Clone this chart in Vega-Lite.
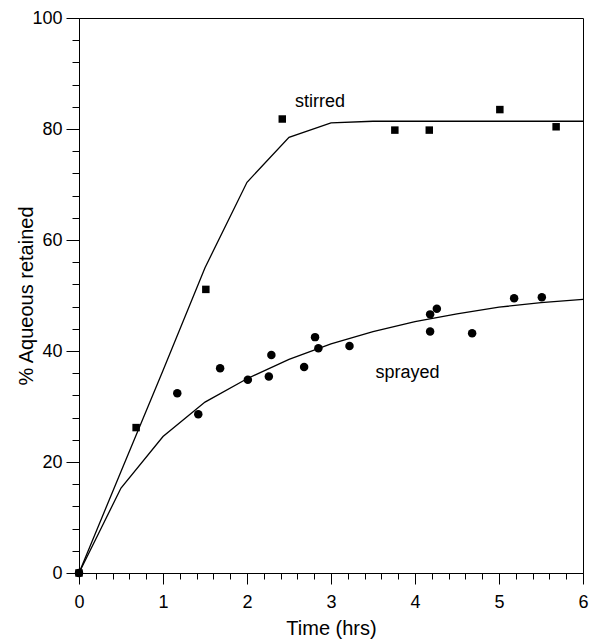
{
  "$schema": "https://vega.github.io/schema/vega-lite/v6.json",
  "width": 504,
  "height": 555,
  "autosize": {"type": "none"},
  "padding": {"left": 79, "top": 18, "right": 6, "bottom": 67},
  "background": "white",
  "config": {
    "font": "Liberation Sans",
    "view": {"stroke": "black", "strokeWidth": 1},
    "axis": {
      "domainColor": "black",
      "domainWidth": 1,
      "tickColor": "black",
      "tickWidth": 1,
      "labelColor": "black",
      "titleColor": "black",
      "labelFontSize": 18,
      "titleFontSize": 20,
      "titleFontWeight": "normal",
      "labelFont": "Liberation Sans",
      "titleFont": "Liberation Sans",
      "grid": false
    }
  },
  "datasets": {
    "fits": [
      {"series": "stirred", "t": 0, "v": 0},
      {"series": "stirred", "t": 0.5, "v": 18.3},
      {"series": "stirred", "t": 1, "v": 36.5},
      {"series": "stirred", "t": 1.5, "v": 55},
      {"series": "stirred", "t": 2, "v": 70.4},
      {"series": "stirred", "t": 2.5, "v": 78.5},
      {"series": "stirred", "t": 3, "v": 81.1},
      {"series": "stirred", "t": 3.5, "v": 81.4},
      {"series": "stirred", "t": 4, "v": 81.4},
      {"series": "stirred", "t": 4.5, "v": 81.4},
      {"series": "stirred", "t": 5, "v": 81.4},
      {"series": "stirred", "t": 5.5, "v": 81.4},
      {"series": "stirred", "t": 6, "v": 81.4},
      {"series": "sprayed", "t": 0, "v": 0},
      {"series": "sprayed", "t": 0.5, "v": 15.3},
      {"series": "sprayed", "t": 1, "v": 24.6},
      {"series": "sprayed", "t": 1.5, "v": 30.8},
      {"series": "sprayed", "t": 2, "v": 35},
      {"series": "sprayed", "t": 2.5, "v": 38.5},
      {"series": "sprayed", "t": 3, "v": 41.3},
      {"series": "sprayed", "t": 3.5, "v": 43.5},
      {"series": "sprayed", "t": 4, "v": 45.3},
      {"series": "sprayed", "t": 4.5, "v": 46.7},
      {"series": "sprayed", "t": 5, "v": 47.9},
      {"series": "sprayed", "t": 5.5, "v": 48.7},
      {"series": "sprayed", "t": 6, "v": 49.3}
    ],
    "points": [
      {"series": "stirred", "t": 0, "v": 0},
      {"series": "stirred", "t": 0.68, "v": 26.2},
      {"series": "stirred", "t": 1.51, "v": 51.1},
      {"series": "stirred", "t": 2.42, "v": 81.8},
      {"series": "stirred", "t": 3.76, "v": 79.8},
      {"series": "stirred", "t": 4.17, "v": 79.8},
      {"series": "stirred", "t": 5.01, "v": 83.5},
      {"series": "stirred", "t": 5.68, "v": 80.4},
      {"series": "sprayed", "t": 0, "v": 0},
      {"series": "sprayed", "t": 1.17, "v": 32.4},
      {"series": "sprayed", "t": 1.42, "v": 28.6},
      {"series": "sprayed", "t": 1.68, "v": 36.9},
      {"series": "sprayed", "t": 2.01, "v": 34.8},
      {"series": "sprayed", "t": 2.26, "v": 35.4},
      {"series": "sprayed", "t": 2.29, "v": 39.3},
      {"series": "sprayed", "t": 2.68, "v": 37.1},
      {"series": "sprayed", "t": 2.81, "v": 42.5},
      {"series": "sprayed", "t": 2.85, "v": 40.5},
      {"series": "sprayed", "t": 3.22, "v": 40.9},
      {"series": "sprayed", "t": 4.18, "v": 43.5},
      {"series": "sprayed", "t": 4.18, "v": 46.6},
      {"series": "sprayed", "t": 4.26, "v": 47.6},
      {"series": "sprayed", "t": 4.68, "v": 43.2},
      {"series": "sprayed", "t": 5.18, "v": 49.5},
      {"series": "sprayed", "t": 5.51, "v": 49.7}
    ],
    "labels": [
      {"label": "stirred", "t": 2.87, "v": 84.9},
      {"label": "sprayed", "t": 3.91, "v": 36}
    ]
  },
  "layer": [
    {
      "data": {"name": "fits"},
      "mark": {"type": "line", "color": "black", "strokeWidth": 1.3},
      "encoding": {
        "x": {
          "field": "t",
          "type": "quantitative",
          "scale": {"domain": [0, 6], "nice": false, "zero": false},
          "axis": {
            "title": "Time (hrs)",
            "values": [0, 0.2, 0.4, 0.6, 0.8, 1, 1.2, 1.4, 1.6, 1.8, 2, 2.2, 2.4, 2.6, 2.8, 3, 3.2, 3.4, 3.6, 3.8, 4, 4.2, 4.4, 4.6, 4.8, 5, 5.2, 5.4, 5.6, 5.8, 6],
            "tickCount": 200,
            "labelExpr": "datum.value % 1 === 0 ? format(datum.value, 'd') : ''",
            "tickSize": {"condition": {"test": "datum.value % 1 === 0", "value": 11}, "value": 6},
            "labelFlush": false,
            "labelOverlap": false,
            "labelPadding": 9,
            "titlePadding": 7
          }
        },
        "y": {
          "field": "v",
          "type": "quantitative",
          "scale": {"domain": [0, 100], "nice": false},
          "axis": {
            "title": "% Aqueous retained",
            "values": [0, 4, 8, 12, 16, 20, 24, 28, 32, 36, 40, 44, 48, 52, 56, 60, 64, 68, 72, 76, 80, 84, 88, 92, 96, 100],
            "tickCount": 200,
            "labelExpr": "datum.value % 20 === 0 ? format(datum.value, 'd') : ''",
            "tickSize": {"condition": {"test": "datum.value % 20 === 0", "value": 13}, "value": 7},
            "labelFlush": false,
            "labelOverlap": false,
            "labelPadding": 4,
            "titleX": -43
          }
        },
        "detail": {"field": "series"}
      }
    },
    {
      "data": {"name": "points"},
      "mark": {"type": "point", "filled": true, "color": "black", "opacity": 1},
      "encoding": {
        "x": {"field": "t", "type": "quantitative"},
        "y": {"field": "v", "type": "quantitative"},
        "shape": {
          "field": "series",
          "type": "nominal",
          "scale": {"domain": ["stirred", "sprayed"], "range": ["square", "circle"]},
          "legend": null
        },
        "size": {
          "field": "series",
          "type": "nominal",
          "scale": {"domain": ["stirred", "sprayed"], "range": [56, 72]},
          "legend": null
        }
      }
    },
    {
      "data": {"name": "labels"},
      "mark": {"type": "text", "fontSize": 18, "color": "black", "font": "Liberation Sans", "align": "center", "baseline": "middle"},
      "encoding": {
        "x": {"field": "t", "type": "quantitative"},
        "y": {"field": "v", "type": "quantitative"},
        "text": {"field": "label"}
      }
    }
  ]
}
